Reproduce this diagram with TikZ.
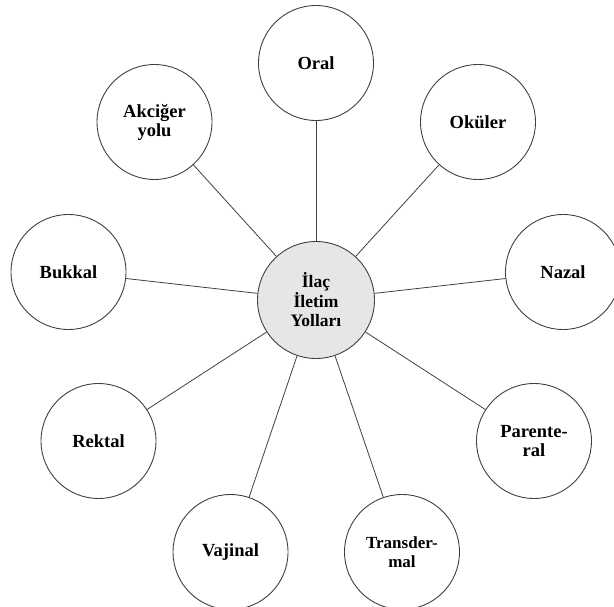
\documentclass[tikz,border=0pt]{standalone}
\usepackage{fontspec}
\setmainfont{Liberation Serif}
\definecolor{rimgray}{HTML}{404040}
\definecolor{hubfill}{HTML}{E6E6E6}

\begin{document}
\begin{tikzpicture}[x=1pt, y=-1pt,
    every node/.style = {shape=circle, draw=rimgray, line width=0.9pt,
      align=center, inner sep=0pt, font=\bfseries\fontsize{18.5}{19}\selectfont},
    route/.style = {minimum size=115pt, fill=white},
    hub/.style   = {minimum size=117pt, fill=hubfill,
      font=\bfseries\fontsize{17.5}{19.5}\selectfont},
    spoke/.style = {draw=rimgray, line width=0.8pt}]
  \useasboundingbox (0,0) rectangle (614,607);
  \node[hub] (ilac) at (316,300) {İlaç\\İletim\\Yolları};
  \node[route] (oral)   at (316,63)    {Oral};
  \node[route] (okuler) at (478,122)   {Oküler};
  \node[route] (nazal)  at (563,272)   {Nazal};
  \node[route] (parent) at (534,441)   {Parente-\\ral};
  \node[route, font=\bfseries\fontsize{17}{18.5}\selectfont]
               (trans)  at (402,552)   {Transder-\\mal};
  \node[route] (vajin)  at (230.5,552) {Vajinal};
  \node[route] (rektal) at (98.5,441)  {Rektal};
  \node[route] (bukkal) at (68.5,272)  {Bukkal};
  \node[route] (akcig)  at (154.5,122) {Akciğer\\yolu};
  \foreach \r in {oral, okuler, nazal, parent, trans, vajin, rektal, bukkal, akcig}
    \draw[spoke] (ilac) -- (\r);
\end{tikzpicture}
\end{document}
